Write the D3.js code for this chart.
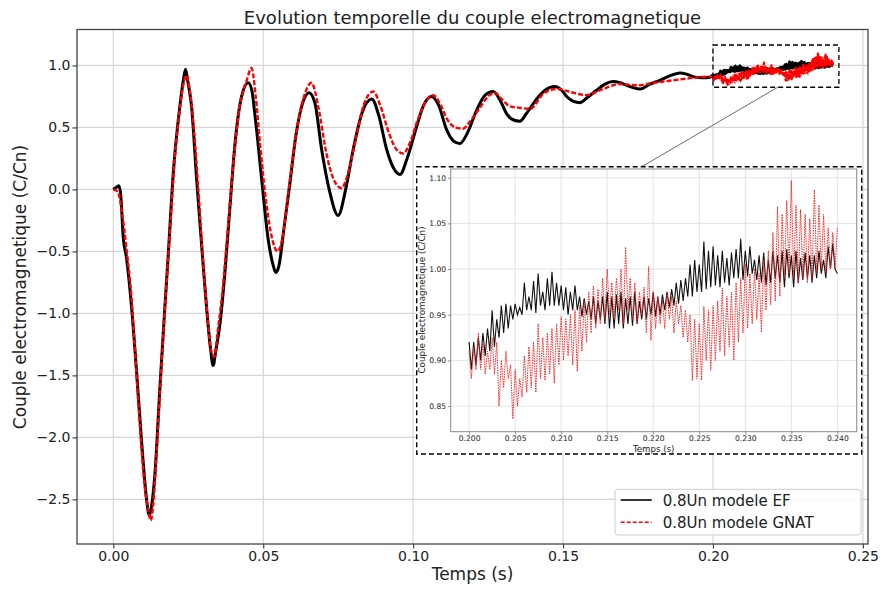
<!DOCTYPE html>
<html>
<head>
<meta charset="utf-8">
<script src="https://cdn.jsdelivr.net/npm/d3@7"></script>
<style>
body { margin: 0; background: #fff; }
text { font-family: "DejaVu Sans", sans-serif; fill: #222; }
</style>
</head>
<body>
<script>
// ---- data ----
var efTime = [0,0.0012,0.0019,0.0025,0.0033,0.0044,0.0061,0.0078,0.0094,0.0111,0.012,0.0128,0.0139,0.0155,0.0172,0.0183,0.02,0.0222,0.0235,0.0241,0.0248,0.0261,0.0278,0.0295,0.0311,0.0325,0.0333,0.0342,0.0356,0.0372,0.0389,0.0406,0.0428,0.045,0.0462,0.0472,0.0495,0.0517,0.0532,0.0542,0.0552,0.057,0.0589,0.061,0.0632,0.0653,0.0672,0.0695,0.072,0.075,0.0775,0.08,0.083,0.0862,0.0885,0.0912,0.0935,0.0956,0.098,0.1012,0.1035,0.1062,0.1085,0.1112,0.1135,0.1156,0.118,0.1212,0.124,0.1267,0.129,0.1312,0.1335,0.1356,0.138,0.1412,0.144,0.1473,0.1495,0.1512,0.1535,0.1556,0.158,0.1612,0.164,0.1667,0.169,0.1712,0.1735,0.1757,0.179,0.1823,0.186,0.189,0.1912,0.1934,0.1965,0.199];
var efValue = [0,0.02,0.03,-0.05,-0.38,-0.55,-0.95,-1.48,-2.02,-2.5,-2.63,-2.55,-2.29,-1.62,-0.95,-0.54,0.13,0.67,0.9,0.97,0.88,0.67,0.08,-0.46,-0.95,-1.3,-1.42,-1.3,-1.08,-0.68,-0.14,0.37,0.75,0.86,0.8,0.61,0.08,-0.41,-0.6,-0.67,-0.62,-0.3,0.05,0.45,0.7,0.78,0.7,0.32,0,-0.21,0,0.32,0.62,0.73,0.6,0.32,0.17,0.12,0.25,0.51,0.68,0.75,0.68,0.48,0.39,0.37,0.45,0.64,0.76,0.79,0.72,0.61,0.56,0.55,0.62,0.73,0.8,0.83,0.8,0.75,0.71,0.7,0.74,0.8,0.85,0.87,0.86,0.84,0.82,0.81,0.85,0.88,0.92,0.94,0.93,0.91,0.9,0.905];

var gnatTime = [0,0.0015,0.003,0.0045,0.006,0.0075,0.009,0.0105,0.0118,0.0125,0.0133,0.0145,0.016,0.0175,0.019,0.0205,0.0222,0.0235,0.0244,0.0255,0.027,0.0285,0.03,0.0315,0.0328,0.0337,0.0348,0.0365,0.038,0.04,0.042,0.0445,0.0461,0.0475,0.049,0.051,0.053,0.0548,0.0565,0.0585,0.061,0.0635,0.0661,0.0685,0.071,0.0735,0.0761,0.0785,0.081,0.0835,0.0867,0.089,0.092,0.0945,0.0967,0.099,0.1015,0.104,0.1067,0.109,0.1115,0.114,0.1167,0.119,0.1223,0.125,0.1273,0.1295,0.1323,0.135,0.139,0.1434,0.1479,0.1534,0.1579,0.1623,0.169,0.1746,0.1801,0.1868,0.1934,0.199];
var gnatValue = [0,-0.02,-0.2,-0.5,-0.85,-1.4,-1.95,-2.4,-2.6,-2.67,-2.55,-2.1,-1.45,-0.85,-0.3,0.25,0.65,0.86,0.92,0.8,0.45,-0.05,-0.6,-1.05,-1.32,-1.35,-1.15,-0.8,-0.38,0.2,0.65,0.88,0.98,0.75,0.35,-0.1,-0.4,-0.5,-0.38,0,0.45,0.74,0.86,0.65,0.3,0.08,0.01,0.15,0.42,0.68,0.79,0.68,0.45,0.32,0.29,0.38,0.56,0.7,0.76,0.69,0.56,0.5,0.49,0.55,0.66,0.75,0.78,0.73,0.67,0.66,0.65,0.77,0.81,0.78,0.76,0.8,0.85,0.84,0.86,0.88,0.9,0.91];

// zoomed window 0.200 - 0.240 s, one sample every 0.25 ms
var zoomStart = 0.2, zoomStep = 0.00025;
var zoomEF = [0.92,0.89,0.92,0.895,0.925,0.90,
  0.93,0.905,0.935,0.91,0.955,0.915,
  0.945,0.925,0.96,0.93,0.962,0.935,
  0.96,0.945,0.962,0.95,0.958,0.95,
  0.985,0.955,0.97,0.955,0.987,0.952,0.995,0.96,
  0.975,0.955,0.99,0.96,0.997,0.96,0.985,0.96,
  0.982,0.955,0.98,0.95,0.975,0.955,0.982,0.955,0.97,0.948,0.968,0.95,
  0.965,0.945,0.97,0.94,0.965,0.945,0.97,0.94,
  0.975,0.935,0.97,0.935,0.972,0.94,0.975,0.935,0.968,0.94,0.97,0.938,0.975,0.94,0.965,0.945,0.97,0.945,0.968,0.95,
  0.975,0.948,0.97,0.95,0.972,0.955,0.975,0.958,0.978,0.96,0.985,0.962,
  0.988,0.965,0.99,0.97,1.005,0.97,1.01,0.975,
  1.005,0.975,1.03,0.978,1.02,0.98,1.025,0.982,
  1.015,0.98,1.02,0.985,1.012,0.982,1.018,0.99,
  1.022,0.99,1.033,0.988,1.02,0.992,1.025,0.995,
  1.01,0.988,1.015,0.985,1.018,0.982,1.01,0.985,1.02,0.99,1.015,0.985,
  1.02,0.98,1.022,0.99,1.015,0.98,1.02,0.985,1.012,0.988,1.018,0.99,1.015,0.985,
  1.015,0.99,1.02,0.995,1.01,0.99,1.025,1.0,1.028,1.0,0.995];
var zoomGNAT = [0.91,0.88,0.915,0.89,0.93,0.89,
  0.92,0.885,0.91,0.89,0.925,0.885,
  0.92,0.85,0.9,0.87,0.91,0.88,
  0.895,0.836,0.89,0.85,0.88,0.86,
  0.905,0.865,0.915,0.87,0.92,0.865,0.94,0.88,
  0.925,0.878,0.93,0.885,0.935,0.875,0.94,0.895,
  0.948,0.9,0.945,0.905,0.95,0.895,0.955,0.888,0.96,0.91,0.965,0.92,
  0.975,0.93,0.982,0.935,0.978,0.94,0.99,0.945,
  1.0,0.95,0.985,0.945,0.99,0.955,1.0,0.94,1.024,0.955,0.99,0.945,0.985,0.94,0.975,0.95,0.98,0.93,1.003,0.922,
  0.975,0.935,0.97,0.94,0.965,0.935,0.975,0.945,0.97,0.93,0.965,0.94,
  0.96,0.925,0.955,0.92,0.95,0.878,0.945,0.88,
  0.94,0.878,0.959,0.9,0.955,0.889,0.96,0.9,
  0.965,0.91,0.979,0.905,0.97,0.915,0.975,0.9,
  0.985,0.92,0.99,0.93,1.006,0.935,0.995,0.94,
  1.0,0.945,0.995,0.931,1.01,0.955,1.02,0.961,1.04,0.965,1.068,0.97,
  1.06,0.99,1.075,0.995,1.097,0.99,1.07,0.984,1.065,0.99,1.06,0.985,1.055,0.99,
  1.087,0.995,1.07,1.0,1.06,0.995,1.045,1.0,1.04,1.0,1.045];

var xTicks = [0, 0.05, 0.1, 0.15, 0.2, 0.25];
var yTicks = [-2.5, -2.0, -1.5, -1.0, -0.5, 0.0, 0.5, 1.0];
var zoomXTicks = [0.2, 0.205, 0.21, 0.215, 0.22, 0.225, 0.23, 0.235, 0.24];
var zoomYTicks = [0.85, 0.9, 0.95, 1.0, 1.05, 1.1];
var seriesNames = ["0.8Un modele EF", "0.8Un modele GNAT"];
var boxTime = [0.2, 0.242], boxValue = [0.824, 1.165];

var width = 881, height = 593;

var svg = d3.select("body").append("svg")
    .attr("width", width)
    .attr("height", height);

var zoomTime = zoomEF.map(function(d, i) { return zoomStart + i * zoomStep; });
var ef = efTime.map(function(t, i) { return [t, efValue[i]]; })
    .concat(zoomTime.map(function(t, i) { return [t, zoomEF[i]]; }));
var gnat = gnatTime.map(function(t, i) { return [t, gnatValue[i]]; })
    .concat(zoomTime.map(function(t, i) { return [t, zoomGNAT[i]]; }));

// ---- main axes ----
var x = d3.scaleLinear().domain([-0.0121, 0.2517]).range([77, 868]);
var y = d3.scaleLinear().domain([-2.86, 1.29]).range([544, 29.5]);

var grid = svg.append("g");
grid.selectAll(".gx").data(xTicks).enter().append("line")
    .attr("x1", d => x(d)).attr("x2", d => x(d))
    .attr("y1", y.range()[1]).attr("y2", y.range()[0])
    .attr("stroke", "#d6d6d6").attr("stroke-width", 1.2);
grid.selectAll(".gy").data(yTicks).enter().append("line")
    .attr("x1", x.range()[0]).attr("x2", x.range()[1])
    .attr("y1", d => y(d)).attr("y2", d => y(d))
    .attr("stroke", "#d6d6d6").attr("stroke-width", 1.2);

var line = d3.line().curve(d3.curveMonotoneX).x(d => x(d[0])).y(d => y(d[1]));

svg.append("path").datum(ef)
    .attr("d", line)
    .attr("fill", "none")
    .attr("stroke", "#000")
    .attr("stroke-width", 3)
    .attr("stroke-linejoin", "round");

svg.append("path").datum(gnat)
    .attr("d", line)
    .attr("fill", "none")
    .attr("stroke", "#ff0000")
    .attr("stroke-width", 2.4)
    .attr("stroke-dasharray", "5,2");

var xAxis = svg.append("g")
    .attr("transform", "translate(0," + y.range()[0] + ")")
    .call(d3.axisBottom(x).tickValues(xTicks).tickFormat(d3.format(".2f")).tickSize(4.5).tickPadding(2.5));
var yAxis = svg.append("g")
    .attr("transform", "translate(" + x.range()[0] + ",0)")
    .call(d3.axisLeft(y).tickValues(yTicks).tickFormat(d3.format(".1f")).tickSize(4.5).tickPadding(2));
[xAxis, yAxis].forEach(function(a) {
  a.select(".domain").remove();
  a.selectAll(".tick line").attr("stroke", "#444").attr("stroke-width", 1.2);
  a.selectAll("text").attr("font-size", 14).attr("font-family", "DejaVu Sans").attr("fill", "#222");
});

svg.append("rect")
    .attr("x", x.range()[0]).attr("y", y.range()[1])
    .attr("width", x.range()[1] - x.range()[0])
    .attr("height", y.range()[0] - y.range()[1])
    .attr("fill", "none").attr("stroke", "#444").attr("stroke-width", 1.3);

svg.append("text")
    .attr("x", 472.5).attr("y", 24)
    .attr("text-anchor", "middle")
    .attr("font-size", 18)
    .text("Evolution temporelle du couple electromagnetique");

svg.append("text")
    .attr("x", 472.5).attr("y", 580)
    .attr("text-anchor", "middle")
    .attr("font-size", 17)
    .text("Temps (s)");

svg.append("text")
    .attr("transform", "translate(25.5,287) rotate(-90)")
    .attr("text-anchor", "middle")
    .attr("font-size", 17)
    .text("Couple electromagnetique (C/Cn)");

// zoom box on main plot
svg.append("rect")
    .attr("x", x(boxTime[0])).attr("y", y(boxValue[1]))
    .attr("width", x(boxTime[1]) - x(boxTime[0]))
    .attr("height", y(boxValue[0]) - y(boxValue[1]))
    .attr("fill", "none").attr("stroke", "#000")
    .attr("stroke-width", 1.3).attr("stroke-dasharray", "5,3");

// ---- inset ----
var frame = {x0: 416.7, y0: 166.7, x1: 861.7, y1: 454};

svg.append("line")
    .attr("x1", 777.7).attr("y1", y(boxValue[0]))
    .attr("x2", 641.7).attr("y2", frame.y0)
    .attr("stroke", "#444").attr("stroke-width", 0.8);

svg.append("rect")
    .attr("x", frame.x0).attr("y", frame.y0)
    .attr("width", frame.x1 - frame.x0).attr("height", frame.y1 - frame.y0)
    .attr("fill", "#fff").attr("stroke", "#000")
    .attr("stroke-width", 1.4).attr("stroke-dasharray", "5,3");

var xi = d3.scaleLinear().domain([0.198, 0.2421]).range([450.7, 856.7]);
var yi = d3.scaleLinear().domain([0.822, 1.1095]).range([431.7, 169]);

var igrid = svg.append("g");
igrid.selectAll(".gx").data(zoomXTicks).enter().append("line")
    .attr("x1", d => xi(d)).attr("x2", d => xi(d))
    .attr("y1", yi.range()[1]).attr("y2", yi.range()[0])
    .attr("stroke", "#dcdcdc").attr("stroke-width", 0.8);
igrid.selectAll(".gy").data(zoomYTicks).enter().append("line")
    .attr("x1", xi.range()[0]).attr("x2", xi.range()[1])
    .attr("y1", d => yi(d)).attr("y2", d => yi(d))
    .attr("stroke", "#dcdcdc").attr("stroke-width", 0.8);

var iline = d3.line().x(d => xi(d[0])).y(d => yi(d[1]));

svg.append("path").datum(zoomTime.map(function(t, i) { return [t, zoomEF[i]]; }))
    .attr("d", iline)
    .attr("fill", "none").attr("stroke", "#111").attr("stroke-width", 1.1);
svg.append("path").datum(zoomTime.map(function(t, i) { return [t, zoomGNAT[i]]; }))
    .attr("d", iline)
    .attr("fill", "none").attr("stroke", "#ff2020").attr("stroke-width", 1)
    .attr("stroke-dasharray", "1.5,1");

var ixAxis = svg.append("g")
    .attr("transform", "translate(0," + yi.range()[0] + ")")
    .call(d3.axisBottom(xi).tickValues(zoomXTicks).tickFormat(d3.format(".3f")).tickSize(3).tickPadding(1));
var iyAxis = svg.append("g")
    .attr("transform", "translate(" + xi.range()[0] + ",0)")
    .call(d3.axisLeft(yi).tickValues(zoomYTicks).tickFormat(d3.format(".2f")).tickSize(3).tickPadding(1.5));
[ixAxis, iyAxis].forEach(function(a) {
  a.select(".domain").remove();
  a.selectAll(".tick line").attr("stroke", "#777").attr("stroke-width", 0.8);
  a.selectAll("text").attr("font-size", 7.6).attr("font-family", "DejaVu Sans").attr("fill", "#333");
});

svg.append("rect")
    .attr("x", xi.range()[0]).attr("y", yi.range()[1])
    .attr("width", xi.range()[1] - xi.range()[0])
    .attr("height", yi.range()[0] - yi.range()[1])
    .attr("fill", "none").attr("stroke", "#888").attr("stroke-width", 1);

svg.append("text")
    .attr("x", (xi.range()[0] + xi.range()[1]) / 2).attr("y", 451.5)
    .attr("text-anchor", "middle")
    .attr("font-size", 8.6)
    .attr("fill", "#333")
    .text("Temps (s)");

svg.append("text")
    .attr("transform", "translate(424.5,300) rotate(-90)")
    .attr("text-anchor", "middle")
    .attr("font-size", 8.8)
    .attr("fill", "#333")
    .text("Couple electromagnetique (C/Cn)");

// ---- legend ----
var legend = svg.append("g");
legend.append("rect")
    .attr("x", 615).attr("y", 489.3)
    .attr("width", 246).attr("height", 45.7)
    .attr("rx", 3)
    .attr("fill", "#fff").attr("fill-opacity", 0.85)
    .attr("stroke", "#ccc").attr("stroke-width", 1);

var legendStyle = [
  {color: "#000", dash: null, width: 1.6},
  {color: "#ff0000", dash: "4,2", width: 1.6}
];
seriesNames.forEach(function(name, i) {
  var ly = 500 + i * 22.3;
  legend.append("line")
      .attr("x1", 620.7).attr("x2", 651.7)
      .attr("y1", ly).attr("y2", ly)
      .attr("stroke", legendStyle[i].color)
      .attr("stroke-width", legendStyle[i].width)
      .attr("stroke-dasharray", legendStyle[i].dash);
  legend.append("text")
      .attr("x", 662.7).attr("y", ly + 5.5)
      .attr("font-size", 15)
      .text(name);
});
</script>
</body>
</html>
